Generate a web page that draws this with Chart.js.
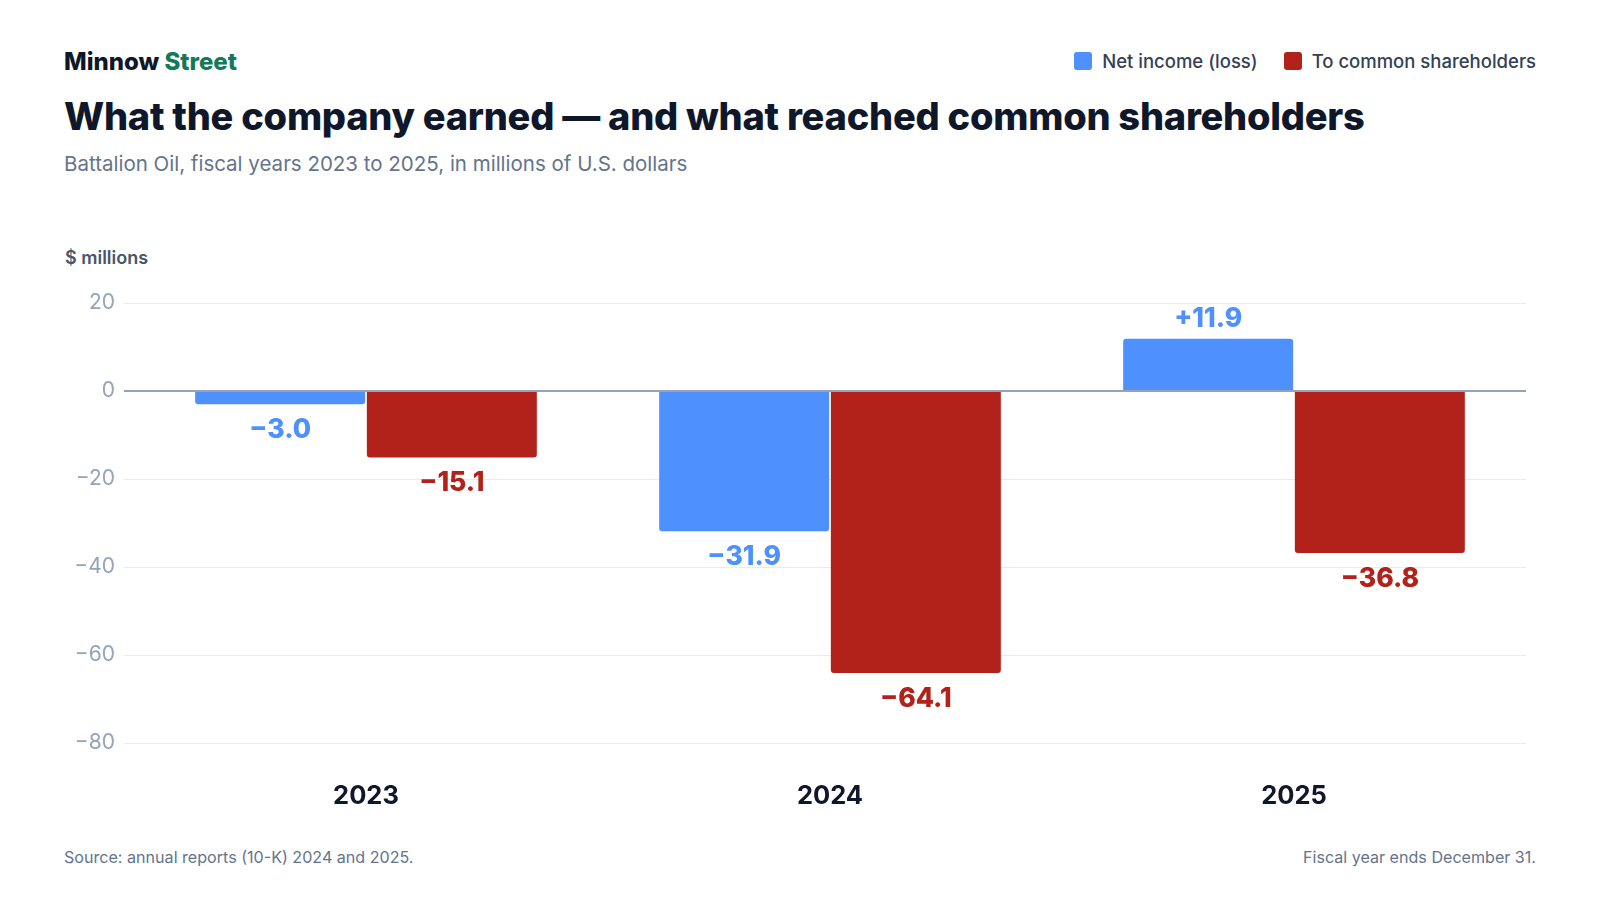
<!DOCTYPE html>
<html>
<head>
<meta charset="utf-8">
<script src="https://cdn.jsdelivr.net/npm/chart.js@4"></script>
<style>
  html, body { margin: 0; padding: 0; background: #fff; }
  body { width: 1600px; height: 900px; position: relative; overflow: hidden; font-family: Inter, "Noto Sans", sans-serif; }
  .abs { position: absolute; line-height: 1; white-space: nowrap; }
  #brand { left: 64px; top: 50px; font-size: 24px; font-weight: 800; color: #0f172a; letter-spacing: 0; }
  #brand span { color: #127a58; }
  #title { left: 64px; top: 97px; font-size: 38px; font-weight: 800; color: #0f172a; letter-spacing: -0.25px; }
  #subtitle { left: 64px; top: 154px; font-size: 20.5px; font-weight: 400; color: #64748b; }
  #unit { left: 65px; top: 249px; font-size: 18px; font-weight: 600; color: #475569; }
  #legend { right: 64px; top: 52px; display: flex; gap: 26px; font-size: 18.5px; font-weight: 500; color: #334155; }
  #legend .item { display: flex; align-items: center; gap: 10px; line-height: 18px; }
  #legend .sw { width: 18px; height: 18px; border-radius: 3px; display: inline-block; }
  #srcnote { left: 64px; top: 849px; font-size: 16.1px; color: #64748b; }
  #fynote { right: 64px; top: 849px; font-size: 16.1px; color: #64748b; }
  #wrap { position: absolute; left: 0; top: 0; width: 1600px; height: 900px; }
</style>
</head>
<body>
<div id="brand" class="abs">Minnow <span>Street</span></div>
<div id="title" class="abs">What the company earned — and what reached common shareholders</div>
<div id="subtitle" class="abs">Battalion Oil, fiscal years 2023 to 2025, in millions of U.S. dollars</div>
<div id="unit" class="abs">$ millions</div>
<div id="legend" class="abs"></div>
<div id="srcnote" class="abs">Source: annual reports (10-K) 2024 and 2025.</div>
<div id="fynote" class="abs">Fiscal year ends December 31.</div>
<div id="wrap"><canvas id="chart"></canvas></div>

<script>
const years = ['2023', '2024', '2025'];
const netIncome = [-3.0, -31.9, 11.9];
const toCommon = [-15.1, -64.1, -36.8];
const seriesNames = ['Net income (loss)', 'To common shareholders'];
const seriesColors = ['#4d90fe', '#b2221a'];
const yTicks = [20, 0, -20, -40, -60, -80];

const minus = s => String(s).replace('-', '\u2212');

// legend built from the series
const legendEl = document.getElementById('legend');
seriesNames.forEach(function(name, i) {
    const item = document.createElement('div');
    item.className = 'item';
    item.innerHTML = '<span class="sw" style="background:' + seriesColors[i] + '"></span><span>' + name + '</span>';
    legendEl.appendChild(item);
});

// value labels at the bar ends
const valueLabels = {
    id: 'valueLabels',
    afterDatasetsDraw(chart) {
        const ctx = chart.ctx;
        ctx.save();
        ctx.font = '800 26.5px Inter, sans-serif';
        ctx.textAlign = 'center';
        ctx.textBaseline = 'alphabetic';
        chart.data.datasets.forEach(function(ds, di) {
            const meta = chart.getDatasetMeta(di);
            meta.data.forEach(function(bar, i) {
                const v = ds.data[i];
                const txt = v > 0 ? '+' + v.toFixed(1) : minus(v.toFixed(1));
                ctx.fillStyle = seriesColors[di];
                if (v >= 0) {
                    ctx.fillText(txt, bar.x, bar.y - 12);
                } else {
                    ctx.fillText(txt, bar.x, bar.y + 34);
                }
            });
        });
        ctx.restore();
    }
};

const ctx = document.getElementById('chart').getContext('2d');
new Chart(ctx, {
    type: 'bar',
    data: {
        labels: years,
        datasets: [{
            label: seriesNames[0],
            data: netIncome,
            backgroundColor: seriesColors[0],
            borderRadius: 3,
            borderSkipped: 'start',
            categoryPercentage: 0.74,
            barPercentage: 0.99
        }, {
            label: seriesNames[1],
            data: toCommon,
            backgroundColor: seriesColors[1],
            borderRadius: 3,
            borderSkipped: 'start',
            categoryPercentage: 0.74,
            barPercentage: 0.99
        }]
    },
    options: {
        responsive: true,
        maintainAspectRatio: false,
        animation: false,
        layout: { padding: { left: 64, right: 74, top: 303, bottom: 77 } },
        plugins: {
            legend: { display: false },
            tooltip: { enabled: false }
        },
        scales: {
            x: {
                grid: { display: false, drawTicks: false },
                border: { display: false },
                ticks: {
                    padding: 38,
                    color: '#0f172a',
                    font: { family: 'Inter', size: 25.5, weight: '700' }
                },
                afterFit(scale) { scale.height = 80; }
            },
            y: {
                min: Math.min(...yTicks),
                max: Math.max(...yTicks),
                border: { display: false },
                afterBuildTicks(scale) { scale.ticks = yTicks.map(v => ({ value: v })); },
                grid: {
                    color: c => c.tick && c.tick.value === 0 ? '#94a3b8' : '#e8ebf0',
                    lineWidth: c => c.tick && c.tick.value === 0 ? 2 : 1,
                    tickLength: 10
                },
                ticks: {
                    padding: 9,
                    color: '#94a3b8',
                    font: { family: 'Inter', size: 21, weight: '400' },
                    callback: v => minus(v)
                },
                afterFit(scale) { scale.width = 70; }
            }
        }
    },
    plugins: [valueLabels]
});
</script>
</body>
</html>
